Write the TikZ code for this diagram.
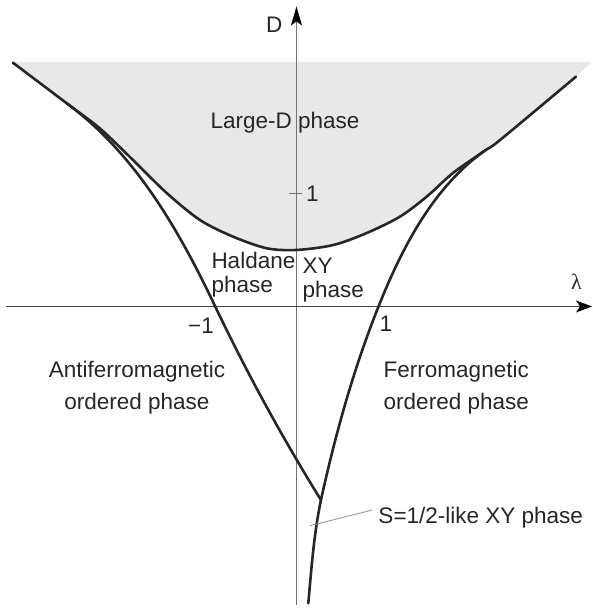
\documentclass[tikz,border=0pt]{standalone}
\usepackage{fontspec}
\setmainfont{Liberation Sans}
\newfontfamily\lamfont{Liberation Serif}
\usetikzlibrary{arrows.meta}
\begin{document}
\begin{tikzpicture}[x=88pt, y=113pt,
  lbl/.style={text=black!85, inner sep=0pt, font=\fontsize{22.5}{24}\selectfont},
  bound/.style={line width=2.6pt, black!85, line join=round, line cap=round},
  axis/.style={line width=1.3pt},
  leader/.style={line width=0.9pt, black!40}]
\useasboundingbox (-3.369,-2.677) rectangle (3.369,2.712);

% large-D region
\fill[black!9] plot[smooth] coordinates {(-3.222,2.157) (-2.611,1.798) (-2.233,1.575) (-1.858,1.296) (-1.475,1.004) (-1.097,0.765) (-0.722,0.618) (-0.339,0.515) (0,0.500) (0.419,0.544) (0.798,0.650) (1.176,0.795) (1.480,0.972) (1.778,1.181) (2.142,1.380) (2.313,1.473) (3.176,2.034)}
  -- (3.358,2.163) -- (-3.222,2.163) -- cycle;

% axes
\draw[axis, black!55, -{Stealth[length=19pt, width=11pt, inset=4pt, color=black]}] (0,-2.642) -- (0,2.655);
\draw[axis, black!75, -{Stealth[length=16pt, width=12pt, inset=4pt, color=black]}] (-3.301,0) -- (3.358,0);
\draw[axis, black!55] (-0.082,1) -- (0.059,1);

% phase boundaries
\draw[bound] plot[smooth] coordinates {(-3.222,2.157) (-2.611,1.798) (-2.233,1.575) (-1.858,1.296) (-1.475,1.004) (-1.097,0.765) (-0.722,0.618) (-0.339,0.515) (0,0.500) (0.419,0.544) (0.798,0.650) (1.176,0.795) (1.480,0.972) (1.778,1.181) (2.142,1.380) (2.313,1.473) (3.176,2.034)};
\draw[bound] (-2.611,1.798) .. controls (-1.835,1.353) and (-1.342,0.684) .. (-0.926,0.004)
  .. controls (-0.569,-0.579) and (-0.1625,-1.160) .. (0.278,-1.712);
\draw[bound] (2.142,1.380) .. controls (1.556,1.059) and (1.198,0.518) .. (0.932,0)
  .. controls (0.649,-0.550) and (0.442,-1.132) .. (0.278,-1.712)
  .. controls (0.197,-2.016) and (0.170,-2.318) .. (0.134,-2.627);

% labels
\node[lbl, anchor=base] (dlab) at (-0.253,2.426) {D};
\node[lbl, anchor=base, font=\fontsize{22}{24}\lamfont] (lamlab) at (3.182,0.146) {λ};
\node[lbl, anchor=base west] (done) at (0.108,0.925) {1};
\node[lbl, anchor=base east] (lmone) at (-0.9375,-0.243) {−1};
\node[lbl, anchor=base west] (lone) at (0.941,-0.223) {1};
\node[lbl, anchor=base] (large) at (-0.131,1.577) {Large-D phase};
\node[lbl, anchor=north west, align=left] (hald) at (-0.968,0.482) {Haldane\\phase};
\node[lbl, anchor=north west, align=left] (xy) at (0.068,0.429) {XY\\phase};
\node[lbl, anchor=north, align=center, font=\fontsize{22.5}{31.5}\selectfont] (afm) at (-1.8125,-0.484) {Antiferromagnetic\\ordered phase};
\node[lbl, anchor=north west, align=left, font=\fontsize{22.5}{31.5}\selectfont] (fm) at (0.989,-0.484) {Ferromagnetic\\ordered phase};
\node[lbl, anchor=base west] (sxy) at (0.9295,-1.919) {S=1/2-like XY phase};
\coordinate (foot) at (0.153,-1.940);
\draw[leader] (foot) -- ([shift={(-6pt,7.5pt)}]sxy.west);
\end{tikzpicture}
\end{document}
